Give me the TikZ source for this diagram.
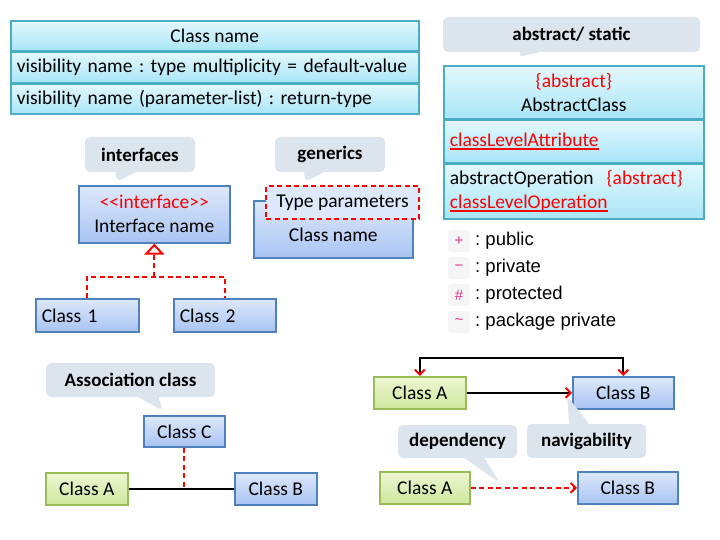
\documentclass[tikz,border=0pt]{standalone}
\usepackage{fontspec}
\setmainfont{Carlito}
\newfontfamily\listfont{Liberation Sans}
\usepackage{tikz}
\usetikzlibrary{arrows.meta,shapes.callouts,shadows,positioning}
\frenchspacing
\definecolor{cyantop}{HTML}{E3F8FD}
\definecolor{cyanbot}{HTML}{A9E5F7}
\definecolor{cyandraw}{HTML}{4BACC6}
\definecolor{bluetop}{HTML}{DDE8FA}
\definecolor{bluebot}{HTML}{A9C4F2}
\definecolor{bluedraw}{HTML}{4F81BD}
\definecolor{greentop}{HTML}{EEF7D3}
\definecolor{greenbot}{HTML}{CDE79C}
\definecolor{greendraw}{HTML}{9BBB59}
\definecolor{bubblefill}{HTML}{DCE4EE}
\definecolor{vispink}{HTML}{E6358B}
\newcommand{\redul}[1]{\textcolor{red}{\setbox0\hbox{#1}\rlap{\rule[-3.5pt]{\wd0}{1.8pt}}\box0}}
\tikzset{
  basic/.style     = {draw, rectangle, line width=1.6pt, inner sep=0pt,
                      font=\fontsize{19.5}{24}\selectfont},
  shade/.style     = {drop shadow={shadow xshift=1.5pt, shadow yshift=-1.5pt, opacity=0.3}},
  cyan row/.style  = {basic, shade, anchor=north west, draw=cyandraw,
                      top color=cyantop, bottom color=cyanbot},
  blue box/.style  = {basic, shade, anchor=north west, draw=bluedraw,
                      top color=bluetop, bottom color=bluebot},
  green box/.style = {basic, shade, anchor=north west, draw=greendraw,
                      top color=greentop, bottom color=greenbot},
  left/.style      = {align=left, inner xsep=6pt, text width=#1},
  bubble/.style    = {rectangle callout, rounded corners=5pt, fill=bubblefill,
                      callout pointer width=20pt, inner sep=0pt,
                      font=\fontsize{19}{22}\selectfont\bfseries},
  reddash/.style   = {draw=red, line width=2pt, dash pattern=on 5pt off 3.5pt},
  link/.style      = {line width=2pt},
  vis sym/.style   = {rectangle, rounded corners=3pt, fill=gray!8, text=vispink,
                      minimum width=22pt, minimum height=22pt, inner sep=0pt,
                      font=\listfont\fontsize{15}{17}\selectfont},
  vis text/.style  = {inner sep=0pt, anchor=west, font=\listfont\fontsize{18.5}{20}\selectfont}
}

\begin{document}
\begin{tikzpicture}[x=1pt,y=-1pt]
\useasboundingbox (0,0) rectangle (720,540);

% class notation
\node[cyan row, minimum width=408pt, minimum height=30pt] (cname) at (10,20) {Class name};
\node[cyan row, left=396pt, minimum height=30pt] (cattr) at (cname.south west) {visibility name : type multiplicity = default-value};
\node[cyan row, left=396pt, minimum height=30pt] (cop) at (cattr.south west) {visibility name (parameter-list) : return-type};

% abstract / static
\node[bubble, minimum width=257pt, minimum height=35pt, callout absolute pointer={(518,57)}] (absbub) at (571.5,34.5) {abstract/ static};
\node[cyan row, minimum width=260pt, minimum height=53pt, align=center] (abs) at (443,65) {\textcolor{red}{\{abstract\}}\\AbstractClass};
\node[cyan row, left=248pt, minimum height=42pt] (absattr) at (abs.south west) {\redul{classLevelAttribute}};
\node[cyan row, left=248pt, minimum height=55pt] (absop) at (absattr.south west) {abstractOperation\ \ \textcolor{red}{\{abstract\}}\\\redul{classLevelOperation}};

% interfaces
\node[bubble, minimum width=110pt, minimum height=35pt, callout absolute pointer={(117,182)}] (ifbub) at (140,154.5) {interfaces};
\node[blue box, minimum width=151pt, minimum height=57pt, align=center] (iface) at (78,185) {\textcolor{red}{<{}<interface>{}>}\\Interface name};
\node[blue box, left=91pt, minimum height=33pt] (cls1) at (35,298) {Class 1};
\node[blue box, left=90pt, minimum height=33pt] (cls2) at (173,298) {Class 2};
\coordinate (fork) at ([yshift=-33pt]iface.south);
\draw[reddash] (cls1.north) |- (fork) -| (cls2.north);
\draw[reddash, -{Triangle[open, width=20pt, length=11pt]}] (fork) -- (iface.south);

% generics
\node[bubble, minimum width=110pt, minimum height=35pt, callout absolute pointer={(305,182)}] (genbub) at (330,154.5) {generics};
\node[blue box, minimum width=159pt, minimum height=57pt, align=center] (gen) at (253,200) {\mbox{}\\Class name};
\node[basic, reddash, anchor=north west, fill=bluetop, minimum width=153pt, minimum height=33pt] (tparam) at (265,185) {Type parameters};

% visibility
\foreach \sym/\txt [count=\i] in {{+}/public, {\char"2212}/private, {\#}/protected, {\char"007E}/package private}
  \node[vis sym] (vis\i) at (459,214+27*\i) {\sym}
    node[vis text] at (475,214+27*\i) {: \txt};

% association class
\node[bubble, minimum width=169pt, minimum height=34pt, callout absolute pointer={(163,411)}] (asbub) at (130.5,380) {Association class};
\node[blue box, minimum width=81pt, minimum height=31pt] (asc) at (143,415) {Class C};
\node[green box, minimum width=82pt, minimum height=32pt] (asa) at (45,472) {Class A};
\node[blue box, minimum width=82pt, minimum height=32pt] (asb) at (234,472) {Class B};
\draw[link] (asa.east) -- (asb.west);
\draw[reddash] (asc.south) -- (asc.south |- asa.east);

% navigability
\node[green box, minimum width=92pt, minimum height=32pt] (nava) at (373,376) {Class A};
\node[blue box, minimum width=101pt, minimum height=32pt] (navb) at (572,376) {Class B};
\draw[link, -{Straight Barb[red, length=5pt, width=10pt]}] (nava.east) -- (navb.west);
\draw[link, {Straight Barb[red, length=5pt, width=10pt]}-{Straight Barb[red, length=5pt, width=10pt]}] (nava.north) -- ++(0,-18) -| (navb.north);
\node[bubble, minimum width=119pt, minimum height=34pt, callout absolute pointer={(567,396)}] (navbub) at (586.5,441) {navigability};

% dependency
\node[bubble, minimum width=119pt, minimum height=33pt, callout absolute pointer={(500,483)}] (depbub) at (457.5,441.5) {dependency};
\node[green box, minimum width=90pt, minimum height=32pt] (depa) at (379,471) {Class A};
\node[blue box, minimum width=100pt, minimum height=32pt] (depb) at (577,471) {Class B};
\draw[reddash, -{Straight Barb[length=5pt, width=10pt]}] (depa.east) -- (depb.west);
\end{tikzpicture}
\end{document}
